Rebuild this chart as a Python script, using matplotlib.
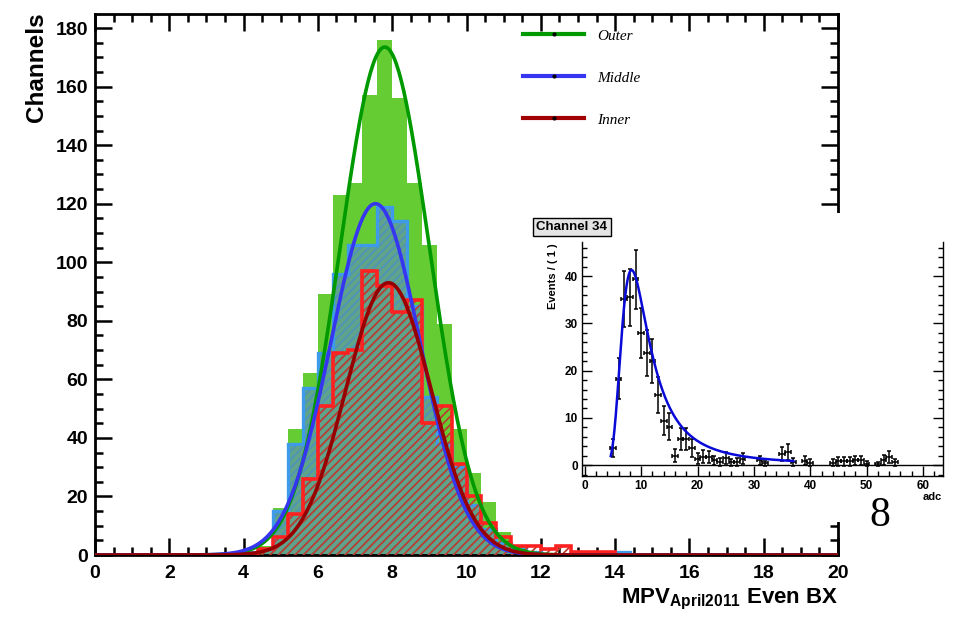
import numpy as np
import matplotlib
matplotlib.use('Agg')
import matplotlib.pyplot as plt
from matplotlib.patches import Rectangle
from matplotlib.lines import Line2D
from matplotlib.ticker import MultipleLocator

plt.rcParams['font.family'] = ['Liberation Sans', 'DejaVu Sans']
plt.rcParams['font.weight'] = 'bold'
plt.rcParams['hatch.linewidth'] = 1.3
plt.rcParams['mathtext.fontset'] = 'custom'
plt.rcParams['mathtext.rm'] = 'Liberation Sans:bold'
plt.rcParams['mathtext.bf'] = 'Liberation Sans:bold'
plt.rcParams['mathtext.default'] = 'bf'

# --- MAIN HISTOGRAMS: 50 bins of 0.4 from 0 to 20, listed from the 4.0 bin on ---
bin_edges = np.linspace(0, 20, 51)
first_bin = 10
outer_counts = [1, 3, 16, 43, 62, 89, 123, 127, 157, 176, 156, 127, 106, 79, 43, 28, 18, 8, 3, 1]
middle_counts = [1, 2, 15, 38, 57, 69, 96, 106, 106, 119, 114, 85, 54, 38, 30, 17, 9, 4, 2, 1,
                 0, 0, 0, 0, 0, 1]
inner_counts = [0, 2, 6, 14, 26, 51, 69, 70, 97, 92, 83, 87, 45, 51, 31, 20, 11, 6, 3, 3,
                2, 3, 1, 1, 1]

# gaussian fit parameters (amplitude, mean, sigma)
outer_fit = (173.5, 7.80, 1.20)
middle_fit = (120.0, 7.55, 1.20)
inner_fit = (93.0, 7.90, 1.15)

# --- INSET: Channel 34 adc spectrum, bins 0..63 ---
adc_counts = [0, 0, 0, 0, 0, 3.7, 18.3, 35.2, 35.5, 39.3,
              28, 23.8, 22, 14.8, 9.4, 8.1, 2, 5.6, 5.6, 3.7,
              1.4, 1.8, 1.7, 1, 0.7, 1.6, 0.6, 0.7, 1.4, 0,
              0, 1, 0.35, 0, 0, 2.3, 2.8, 0.7, 0, 0.9,
              0.5, 0, 0, 0, 0.5, 0.8, 0.8, 0.8, 1, 1,
              0.3, 0, 0.2, 1.1, 1.7, 0.6, 0, 0, 0, 0,
              0, 0, 0, 0]
landau_peak = 8.3
landau_sigma = 1.6
landau_height = 41.3
fit_range = (4.6, 37.0)


def full_counts(values):
    c = np.zeros(len(bin_edges) - 1)
    c[first_bin:first_bin + len(values)] = values
    return c


def gauss(x, p):
    a, m, s = p
    return a * np.exp(-0.5 * ((x - m) / s) ** 2)


def landau_pdf(lam):
    t = np.linspace(1e-9, 40, 8000)
    integrand = np.exp(-t * np.log(t) - np.outer(lam, t)) * np.sin(np.pi * t)
    return np.trapezoid(integrand, t, axis=1) / np.pi


W, H = 966, 621
fig = plt.figure(figsize=(W / 100, H / 100), dpi=100)

# --- MAIN PLOT ---
ax = fig.add_axes([95 / W, 1 - 555 / H, (838 - 95) / W, (555 - 14) / H])
outer = full_counts(outer_counts)
middle = full_counts(middle_counts)
inner = full_counts(inner_counts)

ax.stairs(outer, bin_edges, fill=True, color='#66cc33', lw=0, zorder=1)
ax.stairs(middle, bin_edges, fill=True, facecolor='#5fa48a', edgecolor='#4f93b8',
          hatch='////', lw=0, zorder=2)
ax.stairs(middle, bin_edges, color='#3d9be9', lw=2.4, zorder=3)
ax.stairs(inner, bin_edges, fill=True, facecolor='none', edgecolor='#b8402e',
          hatch='////', lw=0, zorder=4)
ax.stairs(inner, bin_edges, color='#ff2020', lw=2.6, zorder=5)

xs = np.linspace(0, 20, 600)
ax.plot(xs, gauss(xs, outer_fit), color='#009a00', lw=2.6, zorder=6)
ax.plot(xs, gauss(xs, middle_fit), color='#3636f0', lw=2.6, zorder=6)
ax.plot(xs, gauss(xs, inner_fit), color='#960000', lw=2.6, zorder=6)

ax.set_xlim(0, 20)
ax.set_ylim(0, 184.8)
ax.xaxis.set_major_locator(MultipleLocator(2))
ax.xaxis.set_minor_locator(MultipleLocator(0.5))
ax.yaxis.set_major_locator(MultipleLocator(20))
ax.yaxis.set_minor_locator(MultipleLocator(5))
ax.tick_params(which='both', direction='in', top=True, right=True, width=1.8,
               labelsize=14)
ax.tick_params(which='major', length=12)
ax.tick_params(which='minor', length=6)
ax.tick_params(axis='x', pad=7)
ax.tick_params(axis='y', pad=5)
for sp in ax.spines.values():
    sp.set_linewidth(2.0)

handles = [Line2D([], [], color='#009a00', lw=3, marker='o', ms=2, mfc='black', mec='black'),
           Line2D([], [], color='#3636f0', lw=3, marker='o', ms=2, mfc='black', mec='black'),
           Line2D([], [], color='#a00000', lw=3, marker='o', ms=2, mfc='black', mec='black')]
leg = ax.legend(handles, ['Outer', 'Middle', 'Inner'], loc='upper left',
                bbox_to_anchor=(523 / W, 1 - 29 / H), bbox_transform=fig.transFigure,
                frameon=False, borderpad=0, borderaxespad=0, numpoints=1,
                handlelength=4.0, handletextpad=0.85, labelspacing=1.85,
                prop={'family': 'Liberation Serif', 'style': 'italic',
                      'weight': 'normal', 'size': 11})

fig.text(36 / W, 1 - 12 / H, 'Channels', rotation=90, ha='center', va='top', fontsize=17.5)
fig.text(838 / W, 1 - 603 / H, r'MPV$_{April2011}$ Even BX', ha='right', va='baseline',
         fontsize=16)

# white panel the inset sits on
fig.add_artist(Rectangle((525 / W, 1 - 522 / H), (W - 525) / W, (522 - 213) / H,
                         transform=fig.transFigure, facecolor='white', edgecolor='none',
                         zorder=1))
fig.text(880 / W, 1 - 516 / H, '8', ha='center', va='center', fontsize=30,
         family='Liberation Serif', weight='normal', zorder=2)

# --- INSET ---
axi = fig.add_axes([582 / W, 1 - 476 / H, (942.7 - 582) / W, (476 - 241.7) / H], zorder=3)
axi.patch.set_alpha(0)
adc = np.arange(len(adc_counts))
cnt = np.array(adc_counts, dtype=float)
nz = cnt > 0
axi.axhline(0, color='black', lw=1.0)
axi.errorbar(adc[nz], cnt[nz], xerr=0.5, yerr=np.sqrt(cnt[nz]), fmt='none',
             ecolor='black', elinewidth=1.1, capsize=1.5, capthick=1.1)

lam_peak = -0.2228
loc = landau_peak - lam_peak * landau_sigma
fx = np.linspace(fit_range[0], fit_range[1], 400)
fy = landau_pdf((fx - loc) / landau_sigma)
fy = landau_height * fy / landau_pdf(np.array([lam_peak]))[0]
axi.plot(fx, fy, color='#0a0ad8', lw=1.8)

axi.set_xlim(-0.5, 63.5)
axi.set_ylim(-2.3, 47.3)
axi.xaxis.set_major_locator(MultipleLocator(10))
axi.xaxis.set_minor_locator(MultipleLocator(2))
axi.yaxis.set_major_locator(MultipleLocator(10))
axi.yaxis.set_minor_locator(MultipleLocator(2))
axi.spines['top'].set_visible(False)
for sp in ('left', 'right', 'bottom'):
    axi.spines[sp].set_linewidth(1.0)
axi.tick_params(which='both', direction='in', right=True, top=False, width=1.0,
                labelsize=8.5, pad=3)
axi.tick_params(which='major', length=7)
axi.tick_params(which='minor', length=3.5)

fig.text(553 / W, 1 - 243 / H, 'Events / ( 1 )', rotation=90, ha='center', va='top',
         fontsize=8)
fig.text(942 / W, 1 - 497 / H, 'adc', ha='right', va='center', fontsize=8)
fig.text(572 / W, 1 - 227 / H, 'Channel 34', ha='center', va='center', fontsize=9.5,
         bbox=dict(boxstyle='square,pad=0.25', facecolor='#e4e4e4', edgecolor='black',
                   lw=1.0))

fig.savefig('out.png', dpi=100)
